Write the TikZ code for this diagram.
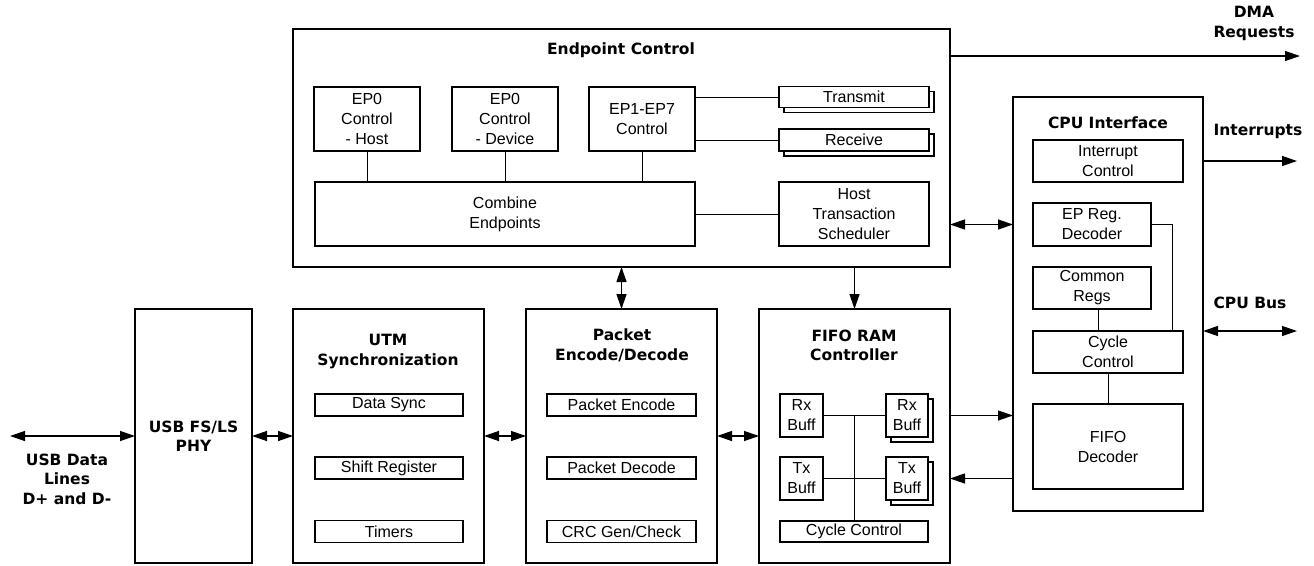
\documentclass[tikz,border=0pt]{standalone}
\usepackage{fontspec}
\setmainfont{Liberation Sans}
\newfontfamily\headfont{DejaVu Sans}
\usetikzlibrary{arrows.meta,calc,positioning,shadows}
\tikzset{block/.style 2 args={
    draw, line width=2.4pt,
    minimum width=#1, minimum height=#2,
    inner sep=0pt, outer sep=0pt
  },
  unit/.style 2 args={
    draw, line width=1.8pt, fill=white,
    minimum width=#1, minimum height=#2,
    align=center, inner sep=0pt, outer sep=0pt,
    font=\fontsize{16}{20}\selectfont
  },
  stack/.style 2 args={unit={#1}{#2},
    copy shadow={shadow xshift=5pt, shadow yshift=-5pt}
  },
  heading/.style={align=center, font=\headfont\bfseries\fontsize{15.5}{19.5}\selectfont},
  wire/.style={line width=1pt},
  link/.style={line width=1.3pt, -{Triangle[length=15pt,width=10pt]}},
  dlink/.style={line width=1.3pt, {Triangle[length=15pt,width=10pt]}-{Triangle[length=15pt,width=10pt]}}
}

\begin{document}
\begin{tikzpicture}[x=1pt, y=-1pt]
    \useasboundingbox (0,0) rectangle (1314,565);
    % endpoint control
    \node[block={657pt}{238pt}] (ep) at (621.5,148) {};
    \node[heading] (eptitle) at (621,50) {Endpoint Control};
    \node[unit={106pt}{64pt}] (ephost) at (367,119) {EP0\\Control\\- Host};
    \node[unit={106pt}{64pt}] (epdev) at (505,119) {EP0\\Control\\- Device};
    \node[unit={106pt}{64pt}] (epgen) at (642,119) {EP1-EP7\\Control};
    \node[stack={150pt}{21pt}] (tx) at (854,97) {Transmit};
    \node[stack={150pt}{22pt}] (rx) at (854,140) {Receive};
    \node[unit={380pt}{64pt}] (comb) at (505,214) {Combine\\Endpoints};
    \node[unit={150pt}{64pt}] (sched) at (854,214) {Host\\Transaction\\Scheduler};
    \foreach \n in {ephost,epdev,epgen}
        \draw[wire] (\n.south) -- (\n.south |- comb.north);
    \draw[wire] (epgen.east |- tx) -- (tx.west);
    \draw[wire] (epgen.east |- rx) -- (rx.west);
    \draw[wire] (comb.east) -- (sched.west);

    % data path
    \node[block={117pt}{254pt}, heading] (phy) at (193.5,436) {USB FS/LS\\PHY};
    \node[block={191pt}{254pt}] (utm) at (388.5,436) {};
    \node[block={191pt}{254pt}] (pkt) at (621.5,436) {};
    \node[block={191pt}{254pt}] (fifo) at (854.5,436) {};
    \node[heading] (utmtitle) at (388,351.5) {UTM\\Synchronization};
    \node[heading] (pkttitle) at (622,345.5) {Packet\\Encode/Decode};
    \node[heading] (fifotitle) at (854,345.5) {FIFO RAM\\Controller};
    \node[unit={148pt}{22pt}] (sync) at (389,405) {Data Sync};
    \node[unit={148pt}{22pt}] (shift) at (389,468) {Shift Register};
    \node[unit={148pt}{22pt}] (timers) at (389,531.5) {Timers};
    \node[unit={149pt}{22pt}] (enc) at (621.5,405) {Packet Encode};
    \node[unit={149pt}{22pt}] (dec) at (621.5,468) {Packet Decode};
    \node[unit={149pt}{22pt}] (crc) at (621.5,531.5) {CRC Gen/Check};
    \node[unit={43pt}{43pt}] (rxa) at (801.5,415.5) {Rx\\Buff};
    \node[stack={42pt}{43pt}] (rxb) at (907,415.5) {Rx\\Buff};
    \node[unit={43pt}{43pt}] (txa) at (801.5,478.5) {Tx\\Buff};
    \node[stack={42pt}{43pt}] (txb) at (907,478.5) {Tx\\Buff};
    \node[unit={148pt}{21pt}] (fcyc) at (854,531.5) {Cycle Control};
    \draw[wire] (rxa.east) -- (rxb.west);
    \draw[wire] (txa.east) -- (txb.west);
    \draw[wire] (fcyc.north |- rxa.east) -- (fcyc.north);

    % cpu interface
    \node[block={190pt}{414pt}] (cpu) at (1108,304) {};
    \node[heading] (cputitle) at (1108,123) {CPU Interface};
    \node[unit={150pt}{42pt}] (irq) at (1108,161) {Interrupt\\Control};
    \node[unit={118pt}{43pt}] (epreg) at (1092,224.5) {EP Reg.\\Decoder};
    \node[unit={118pt}{42pt}] (common) at (1092,288) {Common\\Regs};
    \node[unit={150pt}{42pt}] (ccyc) at (1108,352) {Cycle\\Control};
    \node[unit={150pt}{85pt}] (fdec) at (1108,446.5) {FIFO\\Decoder};
    \draw[wire] (epreg.east) -| ([xshift=-11pt]ccyc.north east);
    \draw[wire] ([xshift=6pt]common.south) -- ([xshift=6pt]common.south |- ccyc.north);
    \draw[wire] (ccyc.south) -- (fdec.north);

    % outside signals
    \coordinate (usb) at (10,436);
    \coordinate (dma) at (1300,56);
    \coordinate (intr) at (1297,161);
    \coordinate (bus) at (1297,331);
    \node[heading, anchor=north west] (dmalabel) at (1210,3) {DMA\\Requests};
    \node[heading, anchor=west] (intlabel) at (1210,131) {Interrupts};
    \node[heading, anchor=west] (buslabel) at (1210,303) {CPU Bus};
    \node[heading] (usblabel) at (67,479) {USB Data\\Lines\\D+ and D-};

    % connectors
    \draw[dlink] (usb) -- (phy.west);
    \draw[dlink] (phy.east) -- (utm.west);
    \draw[dlink] (utm.west -| utm.east) -- (pkt.west);
    \draw[dlink] (pkt.east) -- (fifo.west);
    \draw[dlink] (ep.south -| pkt.north) -- (pkt.north);
    \draw[link] (ep.south -| fifo.north) -- (fifo.north);
    \draw[dlink] (ep.east |- epreg) -- (cpu.west |- epreg);
    \draw[link] (fifo.east |- rxb) -- (cpu.west |- rxb);
    \draw[link] (cpu.west |- txb) -- (fifo.east |- txb);
    \draw[link] (ep.east |- dma) -- (dma);
    \draw[link] (cpu.east |- intr) -- (intr);
    \draw[dlink] (cpu.east |- bus) -- (bus);
\end{tikzpicture}
\end{document}
